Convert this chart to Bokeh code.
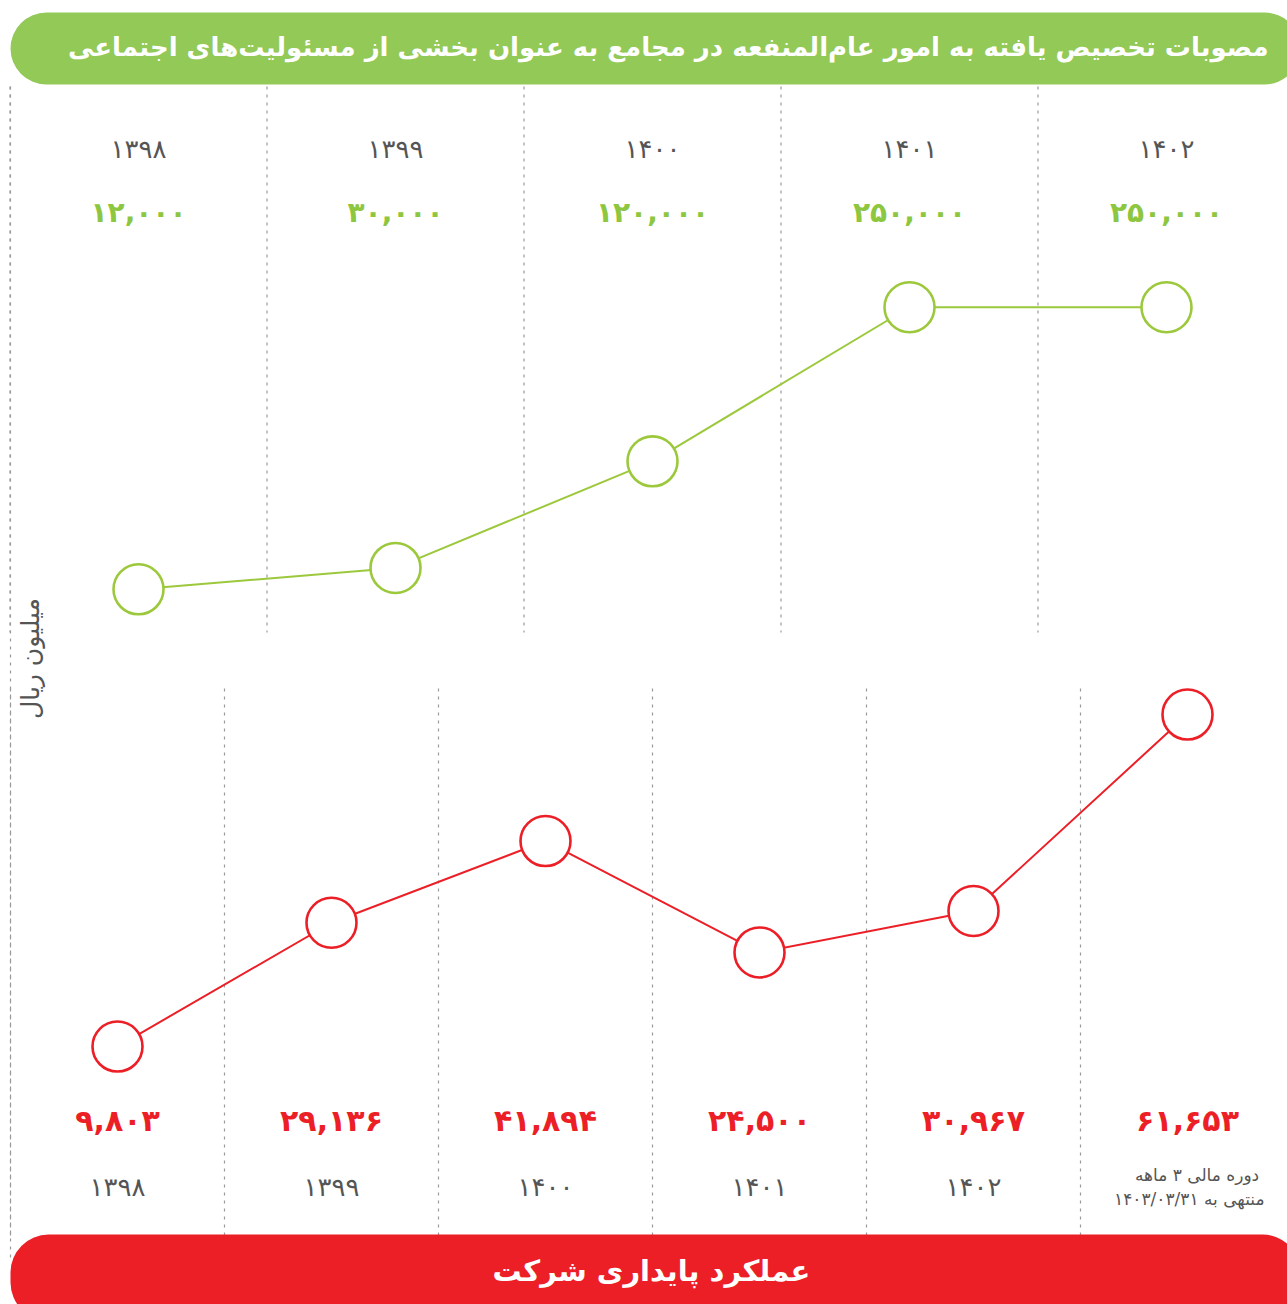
from bokeh.plotting import figure
from bokeh.models import Range1d
from bokeh.core.properties import value
from bokeh.embed import file_html
from bokeh.resources import INLINE

# ---- data ----
top_years = ["1398", "1399", "1400", "1401", "1402"]
top_values = [12000, 30000, 120000, 250000, 250000]

bottom_years = ["1398", "1399", "1400", "1401", "1402", ""]
bottom_values = [9803, 29136, 41894, 24500, 30967, 61653]
bottom_last_note = ["دوره مالی  ۳ ماهه", "منتهی به ۱۴۰۳/۰۳/۳۱"]

title_top = "مصوبات تخصیص یافته به امور عام‌المنفعه در مجامع به عنوان بخشی از مسئولیت‌های اجتماعی"
title_bottom = "عملکرد پایداری شرکت"
unit_label = "میلیون ریال"

FA = str.maketrans("0123456789", "۰۱۲۳۴۵۶۷۸۹")
def fa(s):
    return str(s).translate(FA)

W, H = 1287, 1304
GREEN = "#9cc83c"
GREEN_TXT = "#8dc63f"
GREEN_BAR = "#92c957"
RED = "#ec1f27"
GREY = "#555555"
DASH = "#9a9a9a"
FONT = "DejaVu Sans"

p = figure(width=W, height=H, output_backend="svg", toolbar_location=None,
           x_axis_type=None, y_axis_type=None, min_border=0,
           x_range=Range1d(-138 / 257, (W - 138) / 257),
           y_range=Range1d((603 - H) / 0.001185, 603 / 0.001185))
p.outline_line_color = None
p.background_fill_color = "white"
p.border_fill_color = "white"

p.extra_x_ranges = {"bx": Range1d(-117 / 214, (W - 117) / 214),
                    "px": Range1d(0, W)}
p.extra_y_ranges = {"by": Range1d((1108.8 - H) / 0.006403, 1108.8 / 0.006403),
                    "py": Range1d(H, 0)}

# ---- dashed separators ----
nt = len(top_values)
nb = len(bottom_values)
p.segment(x0=[i - 0.5 for i in range(nt)], x1=[i - 0.5 for i in range(nt)],
          y0=[86] * nt, y1=[632] * nt, y_range_name="py",
          line_color=DASH, line_dash="3 5", line_width=1.2)
p.segment(x0=[i - 0.5 for i in range(nb)], x1=[i - 0.5 for i in range(nb)],
          y0=[688] * nb, y1=[1236] * nb, x_range_name="bx", y_range_name="py",
          line_color=DASH, line_dash="3 5", line_width=1.2)
p.segment(x0=[10], x1=[10], y0=[86], y1=[1262], x_range_name="px", y_range_name="py",
          line_color=DASH, line_dash="3 5", line_width=1.2)

# ---- title bars ----
p.quad(left=[10], right=[1300], top=[12], bottom=[84], x_range_name="px", y_range_name="py",
       fill_color=GREEN_BAR, line_color=None, border_radius=36)
p.quad(left=[10], right=[1300], top=[1234], bottom=[1320], x_range_name="px", y_range_name="py",
       fill_color=RED, line_color=None, border_radius=38)
p.text(x=[1268], y=[46], text=[title_top], x_range_name="px", y_range_name="py",
       text_font=value(FONT), text_font_style="bold", text_font_size="26px",
       text_color="white", text_align="right", text_baseline="middle")
p.text(x=[651], y=[1270], text=[title_bottom], x_range_name="px", y_range_name="py",
       text_font=value(FONT), text_font_style="bold", text_font_size="29px",
       text_color="white", text_align="center", text_baseline="middle")

# ---- unit label ----
p.text(x=[30], y=[658], text=[unit_label], x_range_name="px", y_range_name="py",
       angle=1.5708, text_font=value(FONT), text_font_size="25px",
       text_color=GREY, text_align="center", text_baseline="middle")

# ---- top series ----
tx = list(range(nt))
p.line(tx, top_values, line_color=GREEN, line_width=2)
p.scatter(tx, top_values, size=50, fill_color="white", line_color=GREEN, line_width=2.6)
p.text(x=tx, y=[148] * nt, text=[fa(y) for y in top_years], y_range_name="py",
       text_font=value(FONT), text_font_size="26px", text_color=GREY,
       text_align="center", text_baseline="middle")
p.text(x=tx, y=[212] * nt, text=[fa(f"{v:,}") for v in top_values], y_range_name="py",
       text_font=value(FONT), text_font_style="bold", text_font_size="28px",
       text_color=GREEN_TXT, text_align="center", text_baseline="middle")

# ---- bottom series ----
bx = list(range(nb))
p.line(bx, bottom_values, x_range_name="bx", y_range_name="by", line_color=RED, line_width=2)
p.scatter(bx, bottom_values, x_range_name="bx", y_range_name="by", size=50,
          fill_color="white", line_color=RED, line_width=2.6)
p.text(x=bx, y=[1120] * nb, text=[fa(f"{v:,}") for v in bottom_values],
       x_range_name="bx", y_range_name="py",
       text_font=value(FONT), text_font_style="bold", text_font_size="30px",
       text_color=RED, text_align="center", text_baseline="middle")
p.text(x=bx[:-1], y=[1186] * (nb - 1), text=[fa(y) for y in bottom_years[:-1]],
       x_range_name="bx", y_range_name="py",
       text_font=value(FONT), text_font_size="26px", text_color=GREY,
       text_align="center", text_baseline="middle")
p.text(x=[nb - 1 + 0.36, nb - 1 + 0.36], y=[1174, 1198], text=bottom_last_note,
       x_range_name="bx", y_range_name="py",
       text_font=value(FONT), text_font_size="17px", text_color=GREY,
       text_align="right", text_baseline="middle")

open("out.html", "w").write(file_html(p, INLINE))
